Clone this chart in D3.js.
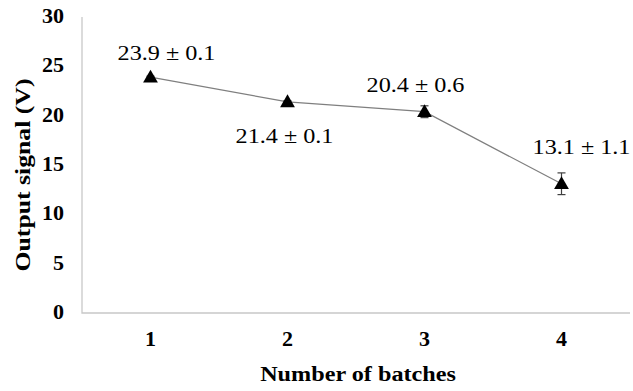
<!DOCTYPE html>
<html>
<head>
<meta charset="utf-8">
<script src="https://cdn.jsdelivr.net/npm/d3@7"></script>
<style>
  body { margin: 0; background: #fff; }
</style>
</head>
<body>
<svg width="633" height="391"></svg>
<script>
// data
var batches = ["1", "2", "3", "4"];
var signal = [23.9, 21.4, 20.4, 13.1];
var errors = [0.1, 0.1, 0.6, 1.1];
var yTicks = [0, 5, 10, 15, 20, 25, 30];

// layout (window.top is read-only, so other names)
var xLeft = 82, xRight = 630, yTop = 17, yBottom = 313;
var serif = "'Liberation Serif', 'Times New Roman', 'DejaVu Serif', serif";
// the source picture is a little stretched sideways
var stretch = 1.1;

function place(x, y) {
  return "translate(" + x + "," + y + ") scale(" + stretch + ",1)";
}

var svg = d3.select("svg").attr("font-family", serif);

var x = d3.scaleBand().domain(batches).range([xLeft, xRight]);
var y = d3.scaleLinear().domain([0, 30]).range([yBottom, yTop]);

// axis lines
svg.append("path")
  .attr("d", "M" + xLeft + " " + yTop + " L" + xLeft + " " + yBottom + " L" + xRight + " " + yBottom)
  .attr("fill", "none")
  .attr("stroke", "#c8c8c8")
  .attr("stroke-width", 1.3);

// y tick labels
svg.append("g").selectAll("text").data(yTicks).enter().append("text")
  .attr("transform", function(d) { return place(64, y(d) + 6); })
  .attr("text-anchor", "end")
  .attr("font-family", serif)
  .attr("font-size", 20)
  .attr("font-weight", "bold")
  .text(function(d) { return d; });

// x tick labels
svg.append("g").selectAll("text").data(batches).enter().append("text")
  .attr("transform", function(d) { return place(x(d) + x.bandwidth() / 2, 346); })
  .attr("text-anchor", "middle")
  .attr("font-family", serif)
  .attr("font-size", 20)
  .attr("font-weight", "bold")
  .text(function(d) { return d; });

// titles
svg.append("text")
  .attr("transform", place(358, 381))
  .attr("text-anchor", "middle")
  .attr("font-family", serif)
  .attr("font-size", 22)
  .attr("font-weight", "bold")
  .text("Number of batches");

svg.append("text")
  .attr("transform", "translate(30,175) rotate(-90) scale(1.17,1)")
  .attr("text-anchor", "middle")
  .attr("font-family", serif)
  .attr("font-size", 22)
  .attr("font-weight", "bold")
  .text("Output signal (V)");

var pts = batches.map(function(b, i) {
  return { cx: x(b) + x.bandwidth() / 2, v: signal[i], e: errors[i] };
});

// line
svg.append("path")
  .datum(pts)
  .attr("d", d3.line().x(function(d) { return d.cx; }).y(function(d) { return y(d.v); }))
  .attr("fill", "none")
  .attr("stroke", "#7f7f7f")
  .attr("stroke-width", 1.3);

// error bars
var eb = svg.append("g").attr("stroke", "#404040").attr("stroke-width", 1.2);
pts.forEach(function(d) {
  var y1 = y(d.v + d.e), y2 = y(d.v - d.e);
  eb.append("line").attr("x1", d.cx).attr("x2", d.cx).attr("y1", y1).attr("y2", y2);
  eb.append("line").attr("x1", d.cx - 4).attr("x2", d.cx + 4).attr("y1", y1).attr("y2", y1);
  eb.append("line").attr("x1", d.cx - 4).attr("x2", d.cx + 4).attr("y1", y2).attr("y2", y2);
});

// markers
svg.append("g").selectAll("path").data(pts).enter().append("path")
  .attr("d", d3.symbol().type(d3.symbolTriangle).size(95))
  .attr("transform", function(d) { return "translate(" + d.cx + "," + (y(d.v) + 1) + ")"; })
  .attr("fill", "#000");

// value labels (offsets relative to each point)
var labelDx = [16, -3, -9, 20];
var labelDy = [-17, 41, -20, -30];
svg.append("g").selectAll("text").data(pts).enter().append("text")
  .attr("transform", function(d, i) { return place(d.cx + labelDx[i], y(d.v) + labelDy[i]); })
  .attr("text-anchor", "middle")
  .attr("font-family", serif)
  .attr("font-size", 22)
  .text(function(d) { return d.v.toFixed(1) + " \u00b1 " + d.e.toFixed(1); });
</script>
</body>
</html>
